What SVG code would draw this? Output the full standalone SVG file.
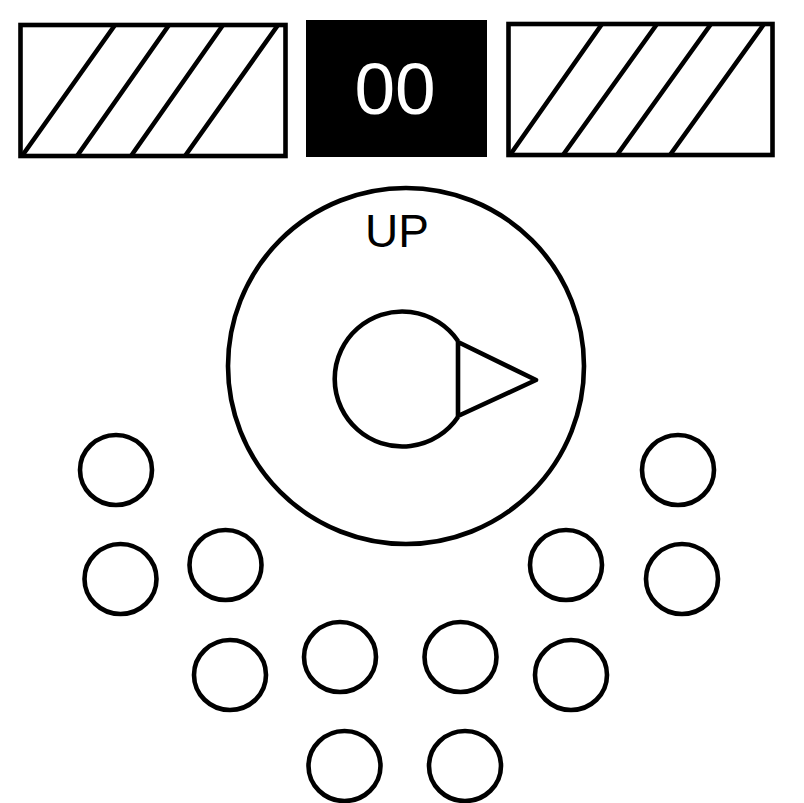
<svg xmlns="http://www.w3.org/2000/svg" width="804" height="803" viewBox="0 0 804 803">
<style>
.s{fill:#fff;stroke:#000;stroke-width:4.6}
.h{stroke:#000;stroke-width:4.6;fill:none}
.t{font-family:"Liberation Sans",Arial,sans-serif;text-anchor:middle}
</style>
<rect width="804" height="803" fill="#fff"/>
<g id="panel-left">
<rect class="s" x="20.5" y="25" width="265" height="131"/>
<path class="h" d="M22,156 L115,25 M77,156 L169,25 M131,156 L223,25 M185,156 L278,25"/>
</g>
<g id="display">
<rect x="306" y="20" width="181" height="137" fill="#000"/>
<text class="t" x="395" y="114" font-size="73" fill="#fff">00</text>
</g>
<g id="panel-right">
<rect class="s" x="508.5" y="24" width="264" height="131"/>
<path class="h" d="M510,155 L602,24 M563,155 L657,24 M617,155 L711,24 M670,155 L764,24"/>
</g>
<g id="dial">
<circle class="s" cx="406" cy="366" r="178"/>
<text class="t" x="397" y="247" font-size="46" fill="#000">UP</text>
<path class="h" d="M458,341 A67.5,67.5 0 1 0 458,417"/>
<polygon class="s" points="458,342 536,380 458,416" stroke-linejoin="round"/>
</g>
<g id="buttons">
<ellipse class="s" cx="116" cy="470" rx="36" ry="35"/>
<ellipse class="s" cx="678" cy="470" rx="36" ry="35"/>
<ellipse class="s" cx="120.5" cy="579" rx="36" ry="35"/>
<ellipse class="s" cx="225.5" cy="565" rx="36" ry="35"/>
<ellipse class="s" cx="566" cy="565" rx="36" ry="35"/>
<ellipse class="s" cx="682" cy="579" rx="36" ry="35"/>
<ellipse class="s" cx="230" cy="675" rx="36" ry="35"/>
<ellipse class="s" cx="340" cy="657" rx="36" ry="35"/>
<ellipse class="s" cx="460.5" cy="657" rx="36" ry="35"/>
<ellipse class="s" cx="571" cy="675" rx="36" ry="35"/>
<ellipse class="s" cx="344.5" cy="766" rx="36" ry="35"/>
<ellipse class="s" cx="465" cy="766" rx="36" ry="35"/>
</g>
</svg>
